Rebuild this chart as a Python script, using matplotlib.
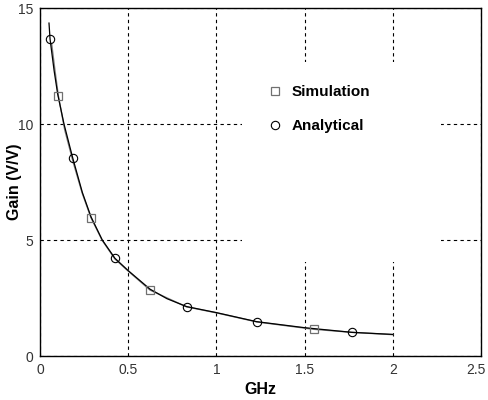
import matplotlib
matplotlib.use("Agg")
import matplotlib.pyplot as plt
import matplotlib.transforms as mtransforms
from matplotlib.patches import Rectangle

plt.rcParams['font.family'] = ['Liberation Sans', 'DejaVu Sans']

# Analytical curve
ana_x = [0.051, 0.057, 0.08, 0.10, 0.136, 0.185, 0.24, 0.289, 0.353, 0.425, 0.5, 0.624,
         0.72, 0.831, 1.0, 1.228, 1.5, 1.767, 2.0]
ana_y = [14.35, 13.66, 12.3, 11.3, 10.0, 8.55, 7.05, 6.0, 5.0, 4.21, 3.68, 2.88,
         2.47, 2.13, 1.87, 1.48, 1.22, 1.02, 0.93]
# Simulation curve
sim_x = [0.066, 0.085, 0.104, 0.14, 0.19, 0.24, 0.289, 0.353, 0.425, 0.5, 0.624,
         0.83, 1.0, 1.228, 1.553, 1.767, 2.0]
sim_y = [13.47, 12.3, 11.22, 9.75, 8.3, 7.0, 5.96, 4.98, 4.18, 3.66, 2.84,
         2.12, 1.86, 1.47, 1.15, 1.02, 0.92]

# Markers
sim_mx = [0.104, 0.289, 0.624, 1.553]
sim_my = [11.22, 5.96, 2.84, 1.15]
ana_mx = [0.057, 0.185, 0.425, 0.831, 1.228, 1.767]
ana_my = [13.66, 8.55, 4.21, 2.13, 1.48, 1.02]

xticks = [0, 0.5, 1, 1.5, 2, 2.5]
xtick_labels = ['0', '0.5', '1', '1.5', '2', '2.5']
yticks = [0, 5, 10, 15]
ytick_labels = ['0', '5', '10', '15']

fig = plt.figure(figsize=(4.88, 4.0), dpi=100)
ax = fig.add_axes([40/488, 44/400, 441/488, 348/400])

ax.set_axisbelow(True)
ax.grid(True, color='black', linestyle=(0, (3, 3)), linewidth=0.8, zorder=0.5)

# white legend background
ax.add_patch(Rectangle((1.145, 4.05), 1.128, 8.62, facecolor='white', edgecolor='none', zorder=1))

ax.plot(sim_x, sim_y, color='#808080', linewidth=1.0, zorder=2)
ax.plot(ana_x, ana_y, color='black', linewidth=0.9, zorder=3)
ax.plot(sim_mx, sim_my, linestyle='none', marker='s', markersize=5.5, markerfacecolor='none',
        markeredgecolor='#707070', markeredgewidth=0.9, label='Simulation', zorder=4)
ax.plot(ana_mx, ana_my, linestyle='none', marker='o', markersize=6, markerfacecolor='none',
        markeredgecolor='black', markeredgewidth=0.8, label='Analytical', zorder=4)

ax.set_xlim(0, 2.5)
ax.set_ylim(0, 15)
ax.set_xticks(xticks)
ax.set_xticklabels(xtick_labels)
ax.set_yticks(yticks)
ax.set_yticklabels(ytick_labels)
ax.tick_params(length=0, labelsize=10, labelcolor='#333333', pad=5)
for s in ax.spines.values():
    s.set_color('black')
    s.set_linewidth(1.0)
    s.set_zorder(5)

# nudge the last x tick label inward so it stays inside the image
last = ax.get_xticklabels()[-1]
last.set_transform(last.get_transform() + mtransforms.ScaledTranslation(-5/100, 0, fig.dpi_scale_trans))

ax.set_xlabel('GHz', fontsize=11.5, fontweight='bold', labelpad=4)
ax.set_ylabel('Gain (V/V)', fontsize=11.5, fontweight='bold')
ax.yaxis.set_label_coords(-0.040, 0.5)

leg = ax.legend(loc='upper left', bbox_to_anchor=(267/488, 1 - 85/400), bbox_transform=fig.transFigure,
                frameon=False, fontsize=11, handlelength=1.0, handletextpad=0.6,
                labelspacing=1.3, borderaxespad=0, borderpad=0)
for t in leg.get_texts():
    t.set_fontweight('bold')

fig.savefig('out.png', dpi=100)
